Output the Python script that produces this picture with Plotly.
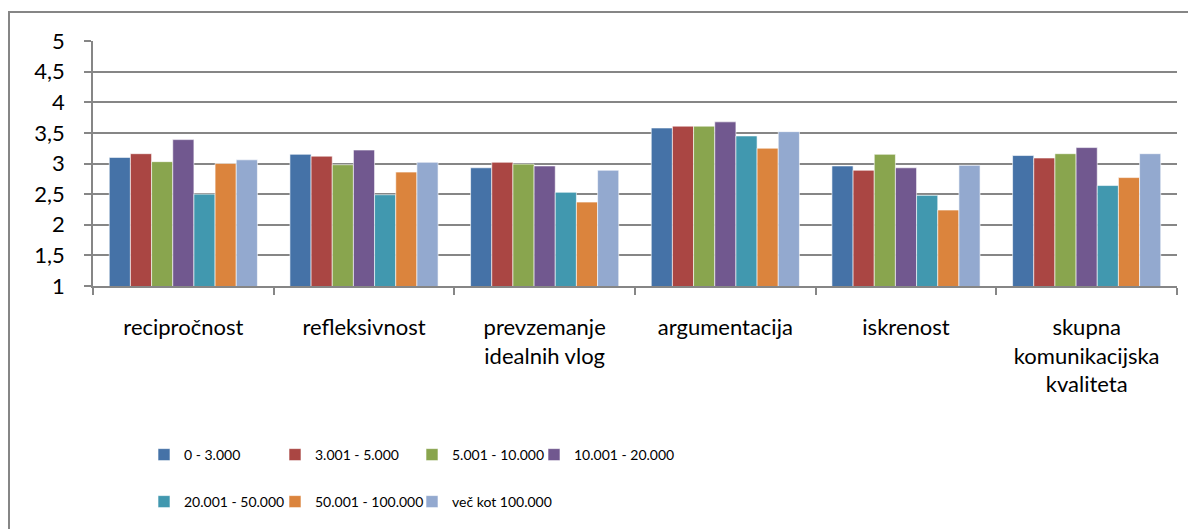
import plotly.graph_objects as go

categories = ["recipročnost", "refleksivnost", "prevzemanje<br>idealnih vlog",
              "argumentacija", "iskrenost", "skupna<br>komunikacijska<br>kvaliteta"]

series_names = ["0 - 3.000", "3.001 - 5.000", "5.001 - 10.000", "10.001 - 20.000",
                "20.001 - 50.000", "50.001 - 100.000", "več kot 100.000"]

s_0_3000 = [3.10, 3.15, 2.93, 3.58, 2.96, 3.13]
s_3001_5000 = [3.16, 3.12, 3.02, 3.61, 2.89, 3.09]
s_5001_10000 = [3.03, 2.98, 2.99, 3.61, 3.15, 3.16]
s_10001_20000 = [3.39, 3.22, 2.96, 3.68, 2.93, 3.26]
s_20001_50000 = [2.50, 2.49, 2.53, 3.45, 2.48, 2.64]
s_50001_100000 = [3.00, 2.86, 2.37, 3.25, 2.24, 2.77]
s_vec_100000 = [3.06, 3.02, 2.89, 3.52, 2.97, 3.16]

series_values = [s_0_3000, s_3001_5000, s_5001_10000, s_10001_20000,
                 s_20001_50000, s_50001_100000, s_vec_100000]

colors = ["#4572A7", "#AA4643", "#89A54E", "#71588F", "#4198AF", "#DB843D", "#93A9CF"]

FONT = "Lato, 'Open Sans', sans-serif"
GRID = "#868686"

# page body has an 8px margin: the figure sits at (8, 8)
OFF = 8
W, H = 1196 - OFF, 529 - OFF
PLOT_L, PLOT_R, PLOT_T, PLOT_B = 93, 1177, 41, 286   # reference page pixels
ML = PLOT_L - OFF
MT = PLOT_T - OFF
MR = W - (PLOT_R - OFF)
MB = H - (PLOT_B - OFF)
PW = PLOT_R - PLOT_L
PH = PLOT_B - PLOT_T


def px_x(px):
    return (px - PLOT_L) / PW


def px_y(py):
    return (PLOT_B - py) / PH


# legend layout: (text start x px, center y px) in reference page pixels
legend_pos = [(185, 455), (316, 455), (453, 455), (575, 455),
              (185, 502), (316, 502), (453, 502)]

fig = go.Figure()
for i, (name, vals, col) in enumerate(zip(series_names, series_values, colors)):
    lname = "legend" if i == 0 else f"legend{i+1}"
    fig.add_trace(go.Bar(
        x=categories, y=vals, name=name,
        marker=dict(color=col, line=dict(color="white", width=0.6)),
        legend=lname,
    ))

legends = {}
for i, (tx, ty) in enumerate(legend_pos):
    key = "legend" if i == 0 else f"legend{i+1}"
    legends[key] = dict(
        x=px_x(tx - 41), y=px_y(ty), xanchor="left", yanchor="middle",
        xref="paper", yref="paper",
        font=dict(family=FONT, size=14, color="#000000"),
        bgcolor="rgba(0,0,0,0)", borderwidth=0,
        itemclick=False, itemdoubleclick=False,
    )

fig.update_layout(
    width=W, height=H,
    margin=dict(l=ML, r=MR, t=MT, b=MB, autoexpand=False),
    paper_bgcolor="white", plot_bgcolor="white",
    barmode="group", bargap=0.18, bargroupgap=0,
    separators=",.",
    showlegend=True,
    font=dict(family=FONT, color="#000000"),
    **legends,
    xaxis=dict(
        showgrid=False, showline=True, linecolor=GRID, linewidth=1.5,
        ticks="outside", tickson="boundaries", ticklen=7, tickwidth=1.5, tickcolor=GRID,
        tickfont=dict(family=FONT, size=22, color="#000000"),
        ticklabelstandoff=21,
    ),
    yaxis=dict(
        range=[1, 5], dtick=0.5, tick0=1,
        showgrid=True, gridcolor=GRID, gridwidth=1.5,
        showline=True, linecolor=GRID, linewidth=1.5,
        ticks="outside", ticklen=7, tickwidth=1.5, tickcolor=GRID,
        tickfont=dict(family=FONT, size=22, color="#000000"),
        ticklabelstandoff=15, zeroline=False,
    ),
    shapes=[dict(
        type="rect", xref="paper", yref="paper",
        x0=px_x(9), x1=px_x(1230), y0=px_y(560), y1=px_y(12),
        line=dict(color=GRID, width=2), fillcolor="rgba(0,0,0,0)", layer="below",
    )],
)

fig.write_html("out.html")
